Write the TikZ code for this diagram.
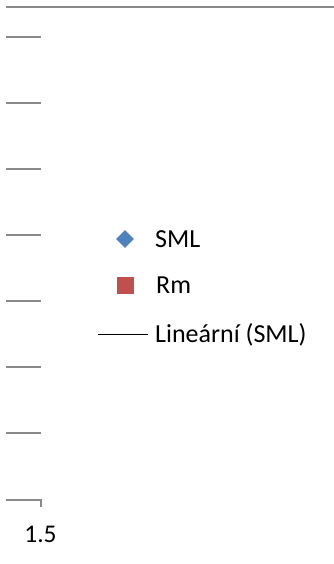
\documentclass[tikz,border=0pt]{standalone}
\usepackage{fontspec}
\setmainfont{Carlito}
\usetikzlibrary{shapes.geometric}
\definecolor{axisgray}{HTML}{898989}
\definecolor{smlblue}{HTML}{4F81BD}
\definecolor{rmred}{HTML}{C0504D}
\tikzset{
  axisline/.style={draw=axisgray, line width=2pt},
  legtext/.style={anchor=west, inner sep=0pt, font=\fontsize{26}{30}\selectfont},
  ticklabel/.style={inner sep=0pt, font=\fontsize{25.5}{30}\selectfont},
}
\begin{document}
\begin{tikzpicture}[x=1pt,y=-1pt]
\useasboundingbox (0,0) rectangle (334,564);
\fill[white] (0,0) rectangle (334,564);
% top border line
\coordinate (tl) at (6,7);
\coordinate (tr) at (334,7);
\draw[axisline] (tl) -- (tr);
% ticks
\foreach \i/\y in {1/37,2/103,3/169,4/235,5/301,6/367,7/433}{
  \coordinate (a\i) at (6,\y);
  \coordinate (b\i) at (40.5,\y);
  \draw[axisline] (a\i) -- (b\i);
}
\coordinate (a8) at (6,500);
\coordinate (b8) at (40.5,500);
\coordinate (c8) at (40.5,507);
\draw[axisline] (a8) -- (b8) -- (c8);
\node[ticklabel] (lab) at (40.5,534) {1.5};
% legend
\node[diamond, fill=smlblue, minimum width=18pt, minimum height=18pt, inner sep=0pt] (dia) at (125,239) {};
\node[legtext] (sml) at (155,239) {SML};
\node[rectangle, fill=rmred, minimum width=17pt, minimum height=17pt, inner sep=0pt] (sq) at (125,285.5) {};
\node[legtext] (rm) at (156,285.5) {Rm};
\node[legtext] (lin) at (155,334.5) {Lineární (SML)};
\coordinate (l1) at (98,334.5);
\coordinate (l2) at (148,334.5);
\draw[line width=1.9pt, black] (l1) -- (l2);
\end{tikzpicture}
\end{document}
